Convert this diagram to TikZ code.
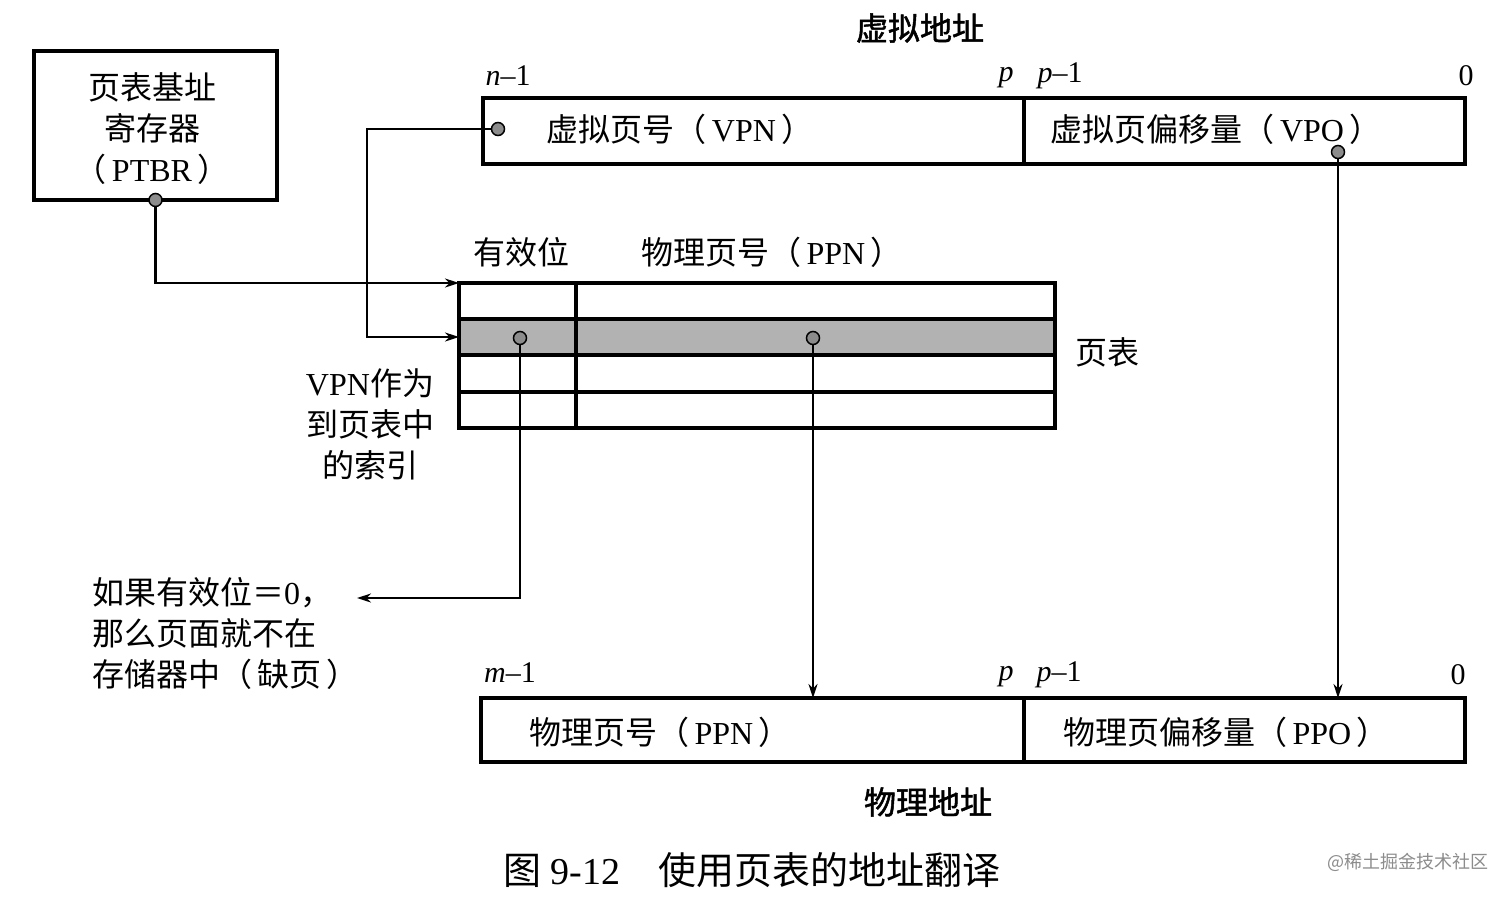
\documentclass[tikz,border=0pt]{standalone}
\usepackage{fontspec}
\setmainfont{Liberation Serif}
\newfontfamily\cjk[AutoFakeBold=1.5]{Noto Sans CJK SC}
\usetikzlibrary{arrows.meta}
\begin{document}
\begin{tikzpicture}[x=1pt,y=-1pt,
  box/.style={draw, line width=3.5pt, inner sep=0pt, outer sep=0pt, anchor=north west},
  txt/.style={font=\cjk\fontsize{32}{41}\selectfont, inner sep=0pt},
  ttl/.style={font=\cjk\bfseries\fontsize{32}{41}\selectfont, inner sep=0pt},
  idx/.style={font=\fontsize{30}{36}\selectfont, inner sep=0pt},
  dot/.style={circle, draw, line width=1.5pt, fill=black!45, minimum size=13pt, inner sep=0pt},
  arr/.style={-{Stealth[length=14pt,width=9pt]}, line width=2.2pt},
  ln/.style={line width=2pt}
]
\useasboundingbox (0,0) rectangle (1512,898);
\fill[white] (0,0) rectangle (1512,898);

% PTBR
\node[box, minimum width=243, minimum height=149] (ptbr) at (34,51) {};
\node[txt, align=center] (ptbrt) at (152,129) {页表基址\\寄存器\\（{\rmfamily\,PTBR\,}）};

% virtual address
\node[ttl] (va) at (920,28) {虚拟地址};
\node[box, minimum width=541, minimum height=66] (vpn) at (483,98) {};
\node[box, minimum width=441, minimum height=66] (vpo) at (1024,98) {};
\node[txt] (vpnt) at (680,129) {虚拟页号（{\rmfamily\,VPN\,}）};
\node[txt] (vpot) at (1216,129) {虚拟页偏移量（{\rmfamily\,VPO\,}）};
\node[idx] (vn1) at (508,76) {\textit{n}–1};
\node[idx] (vp) at (1006,78) {\textit{p}};
\node[idx] (vp1) at (1060,76) {\textit{p}–1};
\node[idx] (v0) at (1466,76) {0};

% page table
\node[txt] (hv) at (521,252) {有效位};
\node[txt] (hp) at (772,252) {物理页号（{\rmfamily\,PPN\,}）};
\node[box, fill=black!30, minimum width=596, minimum height=36] (r2) at (459,319) {};
\node[box, minimum width=596, minimum height=145] (tbl) at (459,283) {};
\draw[line width=3.5pt] (tbl.west |- 0,392) -- (tbl.east |- 0,392);
\draw[line width=3.5pt] (576,283) -- (576,428);
\node[txt] (pt) at (1107,352) {页表};

% physical address
\node[box, minimum width=543, minimum height=64] (ppn) at (481,698) {};
\node[box, minimum width=441, minimum height=64] (ppo) at (1024,698) {};
\node[txt] (ppnt) at (660,732) {物理页号（{\rmfamily\,PPN\,}）};
\node[txt] (ppot) at (1226,732) {物理页偏移量（{\rmfamily\,PPO\,}）};
\node[idx] (pm1) at (510,673) {\textit{m}–1};
\node[idx] (pp) at (1006,677) {\textit{p}};
\node[idx] (pp1) at (1059,675) {\textit{p}–1};
\node[idx] (p0) at (1458,675) {0};
\node[ttl] (pa) at (928,802) {物理地址};

% side labels
\node[txt, align=center] (idxl) at (370,424) {{\rmfamily VPN}作为\\到页表中\\的索引};
\node[txt, align=left, anchor=west] (miss) at (92,633) {如果有效位＝{\rmfamily 0}，\\那么页面就不在\\存储器中（{\,}缺页{\,}）};
\coordinate (missp) at (357,598);
\coordinate (k1) at (367,129);

% dots
\node[dot] (d0) at (ptbr.south) {};
\node[dot] (d1) at (498,129) {};
\node[dot] (d2) at (1338,152) {};
\node[dot] (d3) at (520,338) {};
\node[dot] (d4) at (813,338) {};

% connectors
\draw[arr] (d0) |- (tbl.north west);
\draw[arr] (d1) -- (k1) |- (r2.west);
\draw[arr] (d3) |- (missp);
\draw[arr] (d4) -- (d4 |- ppn.north);
\draw[arr] (d2) -- (d2 |- ppo.north);

% caption
\node[font=\cjk\fontsize{38}{44}\selectfont, inner sep=0pt] (cap) at (752,870) {图 {\rmfamily 9-12}\quad 使用页表的地址翻译};
\node[font=\cjk\fontsize{18}{20}\selectfont, text=black!45, inner sep=0pt] (wm) at (1408,862) {@稀土掘金技术社区};
\end{tikzpicture}
\end{document}
